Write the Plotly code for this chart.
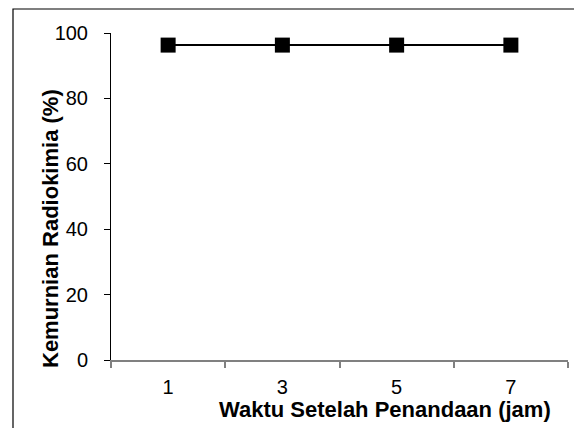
import plotly.graph_objects as go

waktu = ["1", "3", "5", "7"]
kemurnian = [96.3, 96.3, 96.3, 96.3]
y_ticks = [0, 20, 40, 60, 80, 100]

# page body has an 8px margin, so the figure is sized/offset accordingly
W, H = 574, 420
L, R, T, B = 103, 14, 25, 68
pw, ph = W - L - R, H - T - B

FONT = "Liberation Sans, Arial, sans-serif"

fig = go.Figure()
fig.add_trace(go.Scatter(
    x=waktu, y=kemurnian, mode="lines+markers",
    line=dict(color="black", width=2),
    marker=dict(symbol="square", size=15, color="black"),
    showlegend=False, cliponaxis=False,
))

fig.update_layout(
    width=W, height=H,
    margin=dict(l=L, r=R, t=T, b=B),
    paper_bgcolor="white", plot_bgcolor="white",
    font=dict(family=FONT, size=20, color="black"),
    xaxis=dict(
        type="category", range=[-0.5, 3.5], tickson="boundaries",
        ticks="outside", ticklen=6, tickcolor="#808080", tickwidth=1.5,
        showline=True, linecolor="#808080", linewidth=1.5,
        showgrid=False, zeroline=False, ticklabelstandoff=8,
    ),
    yaxis=dict(
        range=[0, 100], tickvals=y_ticks,
        ticks="outside", ticklen=6, tickcolor="black", tickwidth=1,
        showline=True, linecolor="black", linewidth=1,
        showgrid=False, zeroline=False, ticklabelstandoff=12,
    ),
)

def px_x(x):
    return (x - L) / pw

def px_y(y):
    return (T + ph - y) / ph

fig.add_annotation(text="<b>Waktu Setelah Penandaan (jam)</b>", xref="paper", yref="paper",
                   x=px_x(377), y=px_y(401), showarrow=False,
                   xanchor="center", yanchor="middle",
                   font=dict(family=FONT, size=22, color="black"))
fig.add_annotation(text="<b>Kemurnian Radiokimia (%)</b>", xref="paper", yref="paper",
                   x=px_x(42), y=px_y(221), showarrow=False, textangle=-90,
                   xanchor="center", yanchor="middle",
                   font=dict(family=FONT, size=22, color="black"))

# outer frame (top and left edges visible in the reference)
fig.add_shape(type="rect", xref="paper", yref="paper",
              x0=px_x(5), x1=px_x(W + 20),
              y0=px_y(H + 20), y1=px_y(1),
              line=dict(color="black", width=1.2), fillcolor="rgba(0,0,0,0)",
              layer="below")

fig.write_html("out.html")
